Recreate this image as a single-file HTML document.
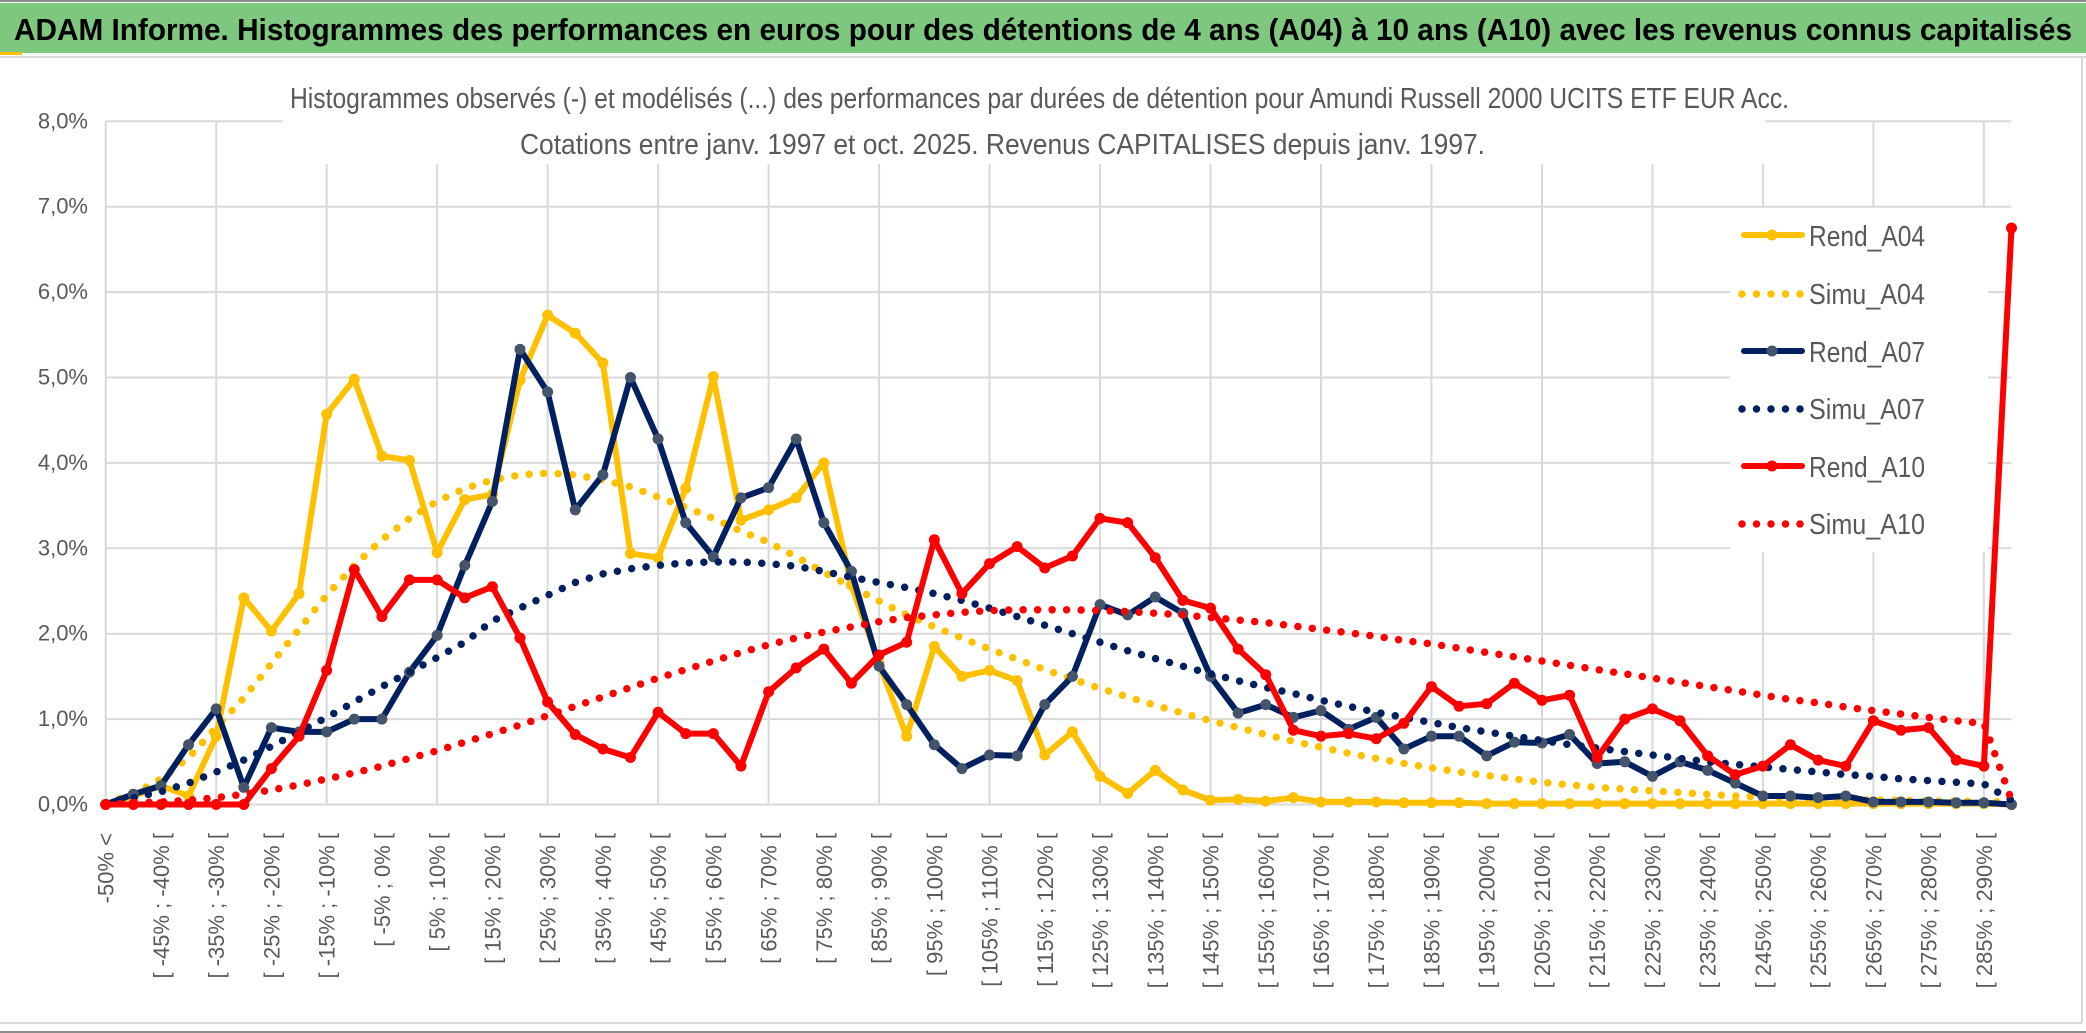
<!DOCTYPE html>
<html><head><meta charset="utf-8">
<style>
html,body{margin:0;padding:0;background:#fff;}
svg{display:block;}
text{font-family:"Liberation Sans",sans-serif;}
</style></head>
<body>
<svg id="chart" width="2086" height="1033" xmlns="http://www.w3.org/2000/svg">
<rect x="0" y="0" width="2086" height="1033" fill="#fff"/>
<rect x="0" y="3" width="2086" height="50" fill="#7dc77f"/>
<line x1="0" y1="1" x2="2086" y2="1" stroke="#8c8c8c" stroke-width="2"/>
<rect x="0" y="52" width="22" height="3" fill="#ffc000"/>
<line x1="0" y1="57" x2="2086" y2="57" stroke="#d9d9d9" stroke-width="2"/>
<text x="14" y="40" font-size="31" font-weight="bold" fill="#000" textLength="2058" lengthAdjust="spacingAndGlyphs">ADAM Informe. Histogrammes des performances en euros pour des détentions de 4 ans (A04) à 10 ans (A10) avec les revenus connus capitalisés</text>
<line x1="2082" y1="57" x2="2082" y2="1023" stroke="#d9d9d9" stroke-width="2"/>
<line x1="0" y1="1023" x2="2082" y2="1023" stroke="#d9d9d9" stroke-width="2"/>
<line x1="0" y1="1032" x2="2086" y2="1032" stroke="#8c8c8c" stroke-width="2"/>
<g id="grid"></g>
<g id="yaxis"></g>
<g id="xaxis"></g>
<g id="series"></g>
<rect x="283" y="70" width="1482" height="94" fill="#fff"/>
<text x="290" y="108" font-size="29" fill="#595959" textLength="1499" lengthAdjust="spacingAndGlyphs">Histogrammes observés (-) et modélisés (...) des performances par durées de détention pour Amundi Russell 2000 UCITS ETF EUR Acc.</text>
<text x="520" y="154" font-size="29" fill="#595959" textLength="965" lengthAdjust="spacingAndGlyphs">Cotations entre janv. 1997 et oct. 2025. Revenus CAPITALISES depuis janv. 1997.</text>
<g id="legend"></g>
</svg>
<script>
const categories = [];
categories.push("-50% <");
for (let a = -50; a < 295; a += 5) categories.push("[ " + a + "% ; " + (a + 5) + "% [");
const yTicks = [0,1,2,3,4,5,6,7,8];
const yTickLabels = ["0,0%","1,0%","2,0%","3,0%","4,0%","5,0%","6,0%","7,0%","8,0%"];
const rendA04 = [0,0.1,0.22,0.1,0.8,2.42,2.03,2.47,4.57,4.98,4.08,4.03,2.95,3.57,3.63,4.97,5.73,5.52,5.17,2.94,2.89,3.7,5.01,3.33,3.45,3.59,4.0,2.57,1.65,0.8,1.85,1.5,1.57,1.45,0.58,0.85,0.33,0.13,0.4,0.17,0.05,0.06,0.04,0.08,0.03,0.03,0.03,0.02,0.02,0.02,0.01,0.01,0.01,0.01,0.01,0.01,0.01,0.01,0.01,0.01,0.01,0.01,0.01,0.01,0.01,0.01,0.01,0.01,0.01,0.0];
const simuA04 = [0.02,0.12,0.3,0.55,0.9,1.25,1.65,2.05,2.45,2.8,3.1,3.35,3.55,3.7,3.8,3.86,3.88,3.86,3.8,3.72,3.6,3.48,3.35,3.2,3.07,2.9,2.72,2.55,2.38,2.22,2.08,1.95,1.82,1.7,1.58,1.47,1.36,1.26,1.16,1.07,0.98,0.9,0.82,0.74,0.67,0.6,0.54,0.48,0.43,0.38,0.34,0.3,0.26,0.23,0.2,0.18,0.16,0.14,0.12,0.1,0.09,0.08,0.07,0.06,0.05,0.05,0.04,0.04,0.03,0.03];
const rendA07 = [0,0.12,0.22,0.7,1.12,0.2,0.9,0.85,0.85,1.0,1.0,1.55,1.98,2.8,3.55,5.33,4.83,3.45,3.86,5.0,4.28,3.3,2.9,3.59,3.71,4.28,3.3,2.73,1.62,1.17,0.7,0.42,0.58,0.57,1.17,1.5,2.34,2.22,2.43,2.24,1.5,1.07,1.17,1.02,1.1,0.88,1.02,0.65,0.8,0.8,0.57,0.73,0.72,0.82,0.48,0.5,0.33,0.5,0.4,0.25,0.1,0.1,0.08,0.1,0.03,0.03,0.03,0.02,0.02,0.0];
const simuA07 = [0.02,0.08,0.15,0.25,0.38,0.52,0.68,0.85,1.02,1.2,1.38,1.55,1.72,1.9,2.15,2.3,2.45,2.6,2.7,2.76,2.8,2.83,2.84,2.84,2.82,2.79,2.73,2.66,2.6,2.54,2.47,2.39,2.3,2.2,2.1,2.0,1.9,1.8,1.71,1.62,1.53,1.45,1.37,1.3,1.22,1.15,1.08,1.02,0.96,0.9,0.85,0.8,0.75,0.7,0.66,0.62,0.58,0.54,0.5,0.47,0.44,0.41,0.38,0.35,0.33,0.3,0.28,0.26,0.24,0.05];
const rendA10 = [0,0,0,0,0,0,0.42,0.8,1.57,2.75,2.2,2.63,2.63,2.42,2.55,1.95,1.2,0.82,0.65,0.55,1.08,0.83,0.83,0.45,1.32,1.6,1.82,1.42,1.75,1.9,3.1,2.47,2.82,3.02,2.77,2.91,3.35,3.3,2.89,2.39,2.3,1.82,1.52,0.87,0.8,0.83,0.77,0.95,1.38,1.15,1.18,1.42,1.22,1.28,0.55,1.0,1.12,0.98,0.57,0.35,0.45,0.7,0.52,0.45,0.98,0.87,0.9,0.52,0.45,6.75];
const simuA10 = [0,0.02,0.03,0.05,0.08,0.12,0.17,0.23,0.3,0.37,0.45,0.54,0.63,0.73,0.83,0.93,1.04,1.15,1.26,1.37,1.48,1.58,1.68,1.78,1.87,1.95,2.02,2.08,2.14,2.19,2.22,2.25,2.27,2.28,2.28,2.28,2.27,2.26,2.24,2.22,2.19,2.16,2.13,2.09,2.05,2.01,1.97,1.92,1.88,1.83,1.78,1.73,1.68,1.63,1.58,1.53,1.48,1.43,1.38,1.33,1.28,1.23,1.19,1.14,1.1,1.06,1.02,0.98,0.95,0.05];

const NS = "http://www.w3.org/2000/svg";
const X0 = 105.7, X1 = 2011.5, Y0 = 804.5, PXPCT = 85.4;
const n = categories.length;
function xPos(i){ return X0 + i * (X1 - X0) / (n - 1); }
function yPos(v){ return Y0 - v * PXPCT; }
function mk(tag, attrs, parent){ const e = document.createElementNS(NS, tag); for (const k in attrs) e.setAttribute(k, attrs[k]); parent.appendChild(e); return e; }

const grid = document.getElementById('grid');
yTicks.forEach(function(t){
  const l = mk('line', {x1:X0, x2:X1, y1:yPos(t), y2:yPos(t), stroke:'#d9d9d9', 'stroke-width':2}, grid);
  
  
});
for (let i = 0; i < n; i += 4) {
  const l = mk('line', {x1:xPos(i), x2:xPos(i), y1:yPos(8), y2:yPos(0), stroke:'#d9d9d9', 'stroke-width':2}, grid);
  
  
}
const yax = document.getElementById('yaxis');
yTicks.forEach(function(t, k){
  const tx = mk('text', {x:88, y:yPos(t) + 7, 'font-size':22, fill:'#595959', 'text-anchor':'end'}, yax);
  tx.textContent = yTickLabels[k];
  
  
});
const xax = document.getElementById('xaxis');
for (let i = 0; i < n; i += 2) {
  const x = xPos(i) + 8, y = 833;
  const tx = mk('text', {x:x, y:y, 'font-size':22, fill:'#595959', 'text-anchor':'end', transform:'rotate(-90 ' + x + ' ' + y + ')'}, xax);
  tx.textContent = categories[i];
  
  
}

const seriesG = document.getElementById('series');
const seriesDefs = [
  {name:'Rend_A04', data:rendA04, color:'#ffc000', marker:'#ffc000', dotted:false},
  {name:'Simu_A04', data:simuA04, color:'#ffc000', dotted:true},
  {name:'Rend_A07', data:rendA07, color:'#002060', marker:'#44546a', dotted:false},
  {name:'Simu_A07', data:simuA07, color:'#002060', dotted:true},
  {name:'Rend_A10', data:rendA10, color:'#ff0000', marker:'#ff0000', dotted:false},
  {name:'Simu_A10', data:simuA10, color:'#ff0000', dotted:true}
];
seriesDefs.forEach(function(s){
  const g = mk('g', {}, seriesG);
  
  
  const pts = s.data.map(function(v, i){ return xPos(i).toFixed(1) + ',' + yPos(v).toFixed(1); }).join(' ');
  const attrs = {points:pts, fill:'none', stroke:s.color, 'stroke-linejoin':'round'};
  if (s.dotted) { attrs['stroke-width'] = 7.5; attrs['stroke-dasharray'] = '0 14.5'; attrs['stroke-linecap'] = 'round'; }
  else { attrs['stroke-width'] = 6; attrs['stroke-linecap'] = 'round'; }
  const pl = mk('polyline', attrs, g);
  
  
  if (!s.dotted) {
    s.data.forEach(function(v, i){
      const c = mk('circle', {cx:xPos(i), cy:yPos(v), r:5.5, fill:s.marker}, g);
      
      
    });
  }
});

const leg = document.getElementById('legend');
mk('rect', {x:1730, y:208, width:258, height:344, fill:'#fff'}, leg);
const legY = [235, 293, 351, 408, 466, 523];
seriesDefs.forEach(function(s, k){
  const y = legY[k];
  const g = mk('g', {}, leg);
  
  
  if (s.dotted) {
    mk('line', {x1:1742, x2:1802, y1:y + 1, y2:y + 1, stroke:s.color, 'stroke-width':7.5, 'stroke-linecap':'round', 'stroke-dasharray':'0 14.5'}, g);
  } else {
    mk('line', {x1:1744, x2:1802, y1:y, y2:y, stroke:s.color, 'stroke-width':6, 'stroke-linecap':'round'}, g);
    mk('circle', {cx:1772, cy:y, r:5.5, fill:s.marker}, g);
  }
  const tx = mk('text', {x:1809, y:y + 11, 'font-size':29, fill:'#595959', textLength:116, lengthAdjust:'spacingAndGlyphs'}, g);
  tx.textContent = s.name;
  
  
});
</script>
</body></html>
